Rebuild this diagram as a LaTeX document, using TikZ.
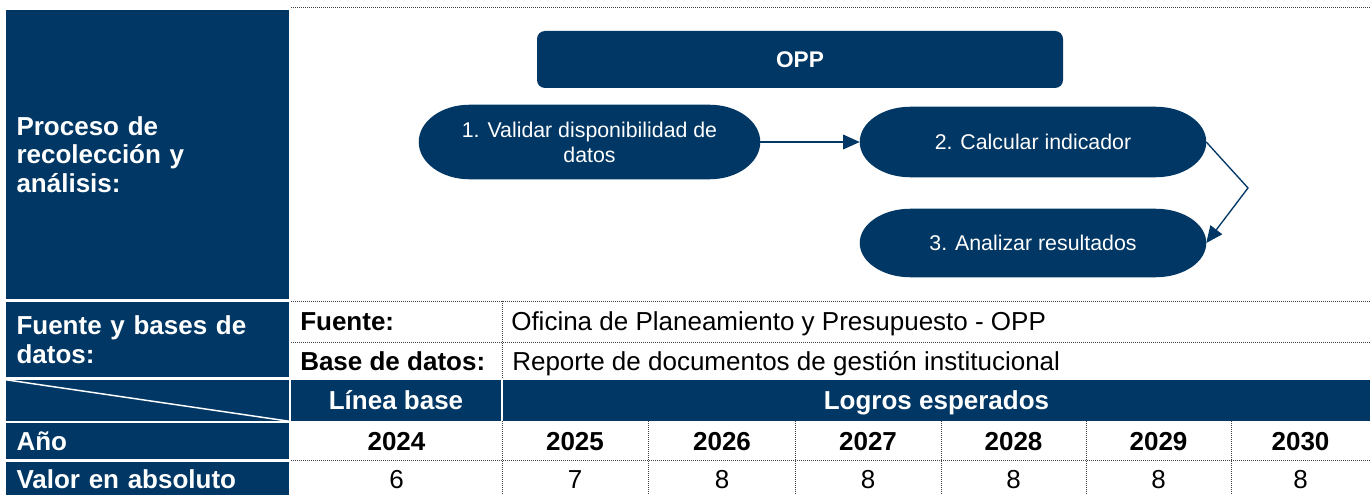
\documentclass[tikz,border=0pt]{standalone}
\usepackage{fontspec}
\setmainfont{Liberation Sans}
\usetikzlibrary{calc,arrows.meta,backgrounds}
\definecolor{navy}{RGB}{0,55,100}
\newcommand\stadfill[1]{%
  \fill[navy] let \p1=(#1.north), \p2=(#1.south), \n1={(\y1-\y2)/2} in
    ([xshift=38pt]#1.north west) -- ([xshift=-38pt]#1.north east)
    arc[start angle=90, end angle=-90, x radius=38pt, y radius={\n1*1pt}]
    -- ([xshift=38pt]#1.south west)
    arc[start angle=270, end angle=90, x radius=38pt, y radius={\n1*1pt}] -- cycle;}
\begin{document}
\begin{tikzpicture}[x=0.75pt,y=-0.75pt,
  cell/.style={fill=navy, text=white, font=\bfseries\fontsize{19.5}{21.5}\selectfont, inner sep=0pt},
  lab/.style={cell, minimum width=212.25pt, text width=196.5pt, align=left, inner xsep=7.875pt},
  oneline/.style={text height=14pt, text depth=0pt},
  flow/.style={text=white, font=\fontsize{16}{18.75}\selectfont, align=center, inner sep=0pt},
  conn/.style={draw=navy, line width=1pt, -{Triangle[length=12.5pt,width=11pt]}},
  dotl/.style={draw=black!75, line width=0.75pt, dash pattern=on 0.75pt off 0.75pt},
  txt/.style={font=\fontsize{19.5}{21.5}\selectfont, inner sep=0pt, oneline},
  btxt/.style={txt, font=\bfseries\fontsize{19.5}{21.5}\selectfont},
]
\useasboundingbox (0,0) rectangle (1370,495);
\begin{scope}[on background layer]
  \fill[white] (0,0) rectangle (1370,495);
\end{scope}

% left label column
\node[lab, minimum height=216.75pt] (proc) at (147.5,154.5) {Proceso de\\recolección y\\análisis:};
\node[lab, minimum height=56.25pt] (fue) at (147.5,339.5) {Fuente y bases de\\datos:};
\node[lab, minimum height=30.75pt] (diag) at (147.5,400.5) {};
\draw[white, line width=1.1pt] (diag.north west) -- (diag.south east);
\node[lab, oneline, minimum height=27pt] (anio) at (147.5,441) {Año};
\node[lab, oneline, minimum height=26.25pt] (valor) at (147.5,479.5) {Valor en absoluto};

% header cells
\node[cell, oneline, minimum width=157.5pt, minimum height=30.75pt] (lb) at (396,400.5) {Línea base};
\node[cell, oneline, minimum width=650.25pt, minimum height=30.75pt] (le) at (936.5,400.5) {Logros esperados};

% source rows
\node[btxt, anchor=west] (fl) at (300,321.5) {Fuente:};
\node[txt, anchor=west] (fv) at (511,321.5) {Oficina de Planeamiento y Presupuesto - OPP};
\node[btxt, anchor=west] (bl) at (300,361) {Base de datos:};
\node[txt, anchor=west] (bv) at (512,361) {Reporte de documentos de gestión institucional};

% years and values
\foreach \xx/\yr/\vv in {396.5/2024/6, 575/2025/7, 722/2026/8, 868/2027/8, 1013.5/2028/8, 1158.5/2029/8, 1300.5/2030/8}{
  \node[btxt] (y\yr) at (\xx,441) {\yr};
  \node[txt] (v\yr) at (\xx,479) {\vv};
}

% dotted rules
\draw[dotl] (291,8) -- (1370,8);
\draw[dotl] (291,301) -- (1370,301);
\draw[dotl] (291,342) -- (1370,342);
\draw[dotl] (502,301) -- (502,378);
\draw[dotl] (291,460.5) -- (1370,460.5);
\foreach \xx in {502,648.7,795,941,1086,1231}{
  \draw[dotl] (\xx,421) -- (\xx,495);
}

% flow
\node[flow, minimum width=394.5pt, minimum height=42.75pt, fill=navy, rounded corners=6pt,
      font=\bfseries\fontsize{17}{20}\selectfont] (opp) at (800,59.5) {OPP};
\node[flow, minimum width=255.75pt, minimum height=55.5pt] (n1) at (589.5,142) {1. Validar disponibilidad de\\datos};
\node[flow, minimum width=259.5pt, minimum height=52.5pt] (n2) at (1033,142) {2. Calcular indicador};
\node[flow, minimum width=259.5pt, minimum height=51pt] (n3) at (1033,243) {3. Analizar resultados};
\begin{scope}[on background layer]
  \stadfill{n1}\stadfill{n2}\stadfill{n3}
\end{scope}
\coordinate (elb) at (1248,188);
\draw[conn] (n1.east) -- (n2.west);
\draw[conn] (n2.east) -- (elb) -- (n3.east);
\end{tikzpicture}
\end{document}
